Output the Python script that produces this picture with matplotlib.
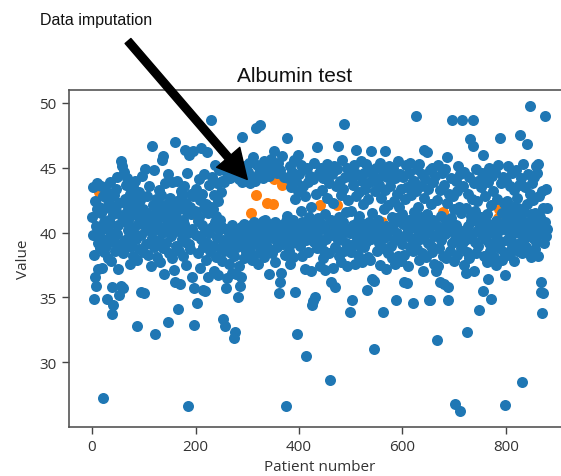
import numpy as np
import matplotlib
matplotlib.use("Agg")
import matplotlib.pyplot as plt

# Albumin values per patient number (0..880)
albumin = [
    41.2, 43.5, 39.8, 38.3, 34.9, 36.6, 42.4, 35.9, 40.5, 41.8, 43.8, 39.2, 37.2, 42.0, 43.1, 40.1, 38.8, 41.5, 43.6, 39.5, 37.3, 42.8, 27.2, 40.8, 38.5,
    41.9, 39.0, 43.2, 40.3, 34.9, 42.5, 38.0, 41.0, 39.6, 43.9, 40.7, 37.8, 42.1, 35.8, 33.7, 41.4, 34.4, 39.3, 42.9, 40.0, 38.6, 41.7, 43.4, 44.3, 39.9,
    40.6, 37.2, 35.2, 42.3, 39.1, 45.5, 35.9, 41.2, 45.1, 38.4, 35.7, 44.7, 40.9, 42.6, 39.4, 43.7, 41.5, 38.9, 44.2, 40.2, 42.0, 39.7, 41.1, 37.6, 43.0,
    41.6, 39.0, 42.7, 40.4, 43.5, 38.2, 41.9, 40.0, 44.0, 39.5, 42.2, 37.9, 32.8, 41.3, 40.7, 43.1, 38.7, 41.0, 42.5, 39.8, 35.4, 40.9, 44.4, 38.5, 41.8,
    35.3, 41.2, 40.5, 44.9, 40.8, 39.1, 41.5, 42.8, 40.2, 38.3, 41.0, 43.6, 40.6, 37.4, 41.3, 46.7, 39.6, 42.1, 40.9, 44.8, 38.9, 41.4, 32.2, 40.3, 42.6,
    40.7, 38.1, 42.4, 41.1, 39.4, 43.3, 40.4, 37.7, 41.8, 42.9, 45.6, 40.0, 38.8, 45.9, 41.6, 36.8, 43.8, 40.5, 39.2, 42.2, 41.0, 33.1, 44.5, 40.8, 38.4,
    41.3, 42.7, 39.7, 40.2, 43.9, 38.0, 41.5, 42.0, 37.1, 40.6, 36.2, 47.0, 41.2, 39.0, 44.0, 42.4, 40.1, 34.1, 38.6, 41.8, 36.0, 43.2, 40.4, 39.5, 42.9,
    41.0, 38.2, 43.6, 40.7, 46.4, 39.3, 42.3, 37.5, 41.6, 44.6, 40.0, 26.6, 46.0, 39.1, 42.0, 38.7, 41.4, 43.0, 36.6, 40.3, 42.8, 46.3, 32.9, 35.7, 41.7,
    39.8, 43.4, 41.3, 34.6, 40.9, 38.4, 44.1, 41.2, 37.3, 42.5, 39.5, 46.5, 40.6, 43.0, 35.6, 38.9, 41.9, 44.5, 35.5, 40.1, 42.2, 37.9, 46.2, 39.2, 36.6,
    41.5, 40.0, 43.7, 38.6, 42.0, 48.7, 40.4, 44.3, 39.0, 41.8, 37.0, 42.9, 40.8, 45.2, 38.1, 41.3, 43.8, 39.6, 36.7, 42.4, 40.2, 44.8, 38.8, 41.0, 43.1,
    40.5, 37.8, 44.0, 39.4, 33.3, 38.6, 43.9, 32.8, 35.7, 40.3, 36.5, 44.6, 39.1, 45.3, 40.0, 37.6, 44.2, 39.7, 38.4, 45.0, 40.6, 36.9, 39.3, 44.4, 31.9,
    38.2, 44.8, 32.3, 36.8, 40.1, 38.9, 45.6, 35.0, 39.5, 44.1, 37.4, 35.9, 36.6, 40.4, 43.9, 47.4, 39.0, 44.5, 38.0, 40.7, 45.1, 39.8, 44.0, 38.5, 40.2,
    39.6, 44.7, 40.3, 38.7, 45.4, 39.9, 43.8, 41.5, 40.6, 37.9, 44.3, 39.2, 45.8, 40.8, 38.3, 44.0, 42.9, 48.1, 39.5, 45.2, 40.1, 37.6, 44.6, 39.0, 48.3,
    44.9, 40.4, 38.6, 45.0, 39.8, 44.2, 40.9, 45.5, 38.1, 41.0, 44.7, 39.3, 40.2, 42.3, 45.3, 38.8, 40.7, 44.4, 36.8, 39.9, 45.7, 40.5, 38.4, 44.9, 42.2,
    40.0, 44.1, 46.3, 37.7, 40.8, 45.0, 39.4, 44.6, 38.9, 40.3, 45.4, 35.3, 39.7, 36.2, 44.8, 36.9, 40.6, 43.7, 45.9, 39.1, 43.9, 40.2, 44.3, 38.3, 40.9,
    26.6, 41.3, 47.3, 39.5, 44.2, 40.5, 38.6, 45.1, 37.6, 40.0, 43.5, 39.2, 44.7, 41.0, 38.1, 45.6, 40.4, 42.6, 35.4, 39.6, 44.0, 32.2, 40.7, 43.2, 46.0,
    40.3, 44.5, 39.0, 41.7, 45.2, 38.2, 40.8, 43.6, 39.8, 44.9, 40.1, 37.2, 42.8, 39.4, 30.5, 45.0, 40.6, 38.5, 43.9, 41.2, 39.7, 44.4, 40.0, 37.0, 42.0,
    34.4, 40.9, 44.1, 34.7, 39.3, 45.4, 35.0, 40.5, 43.0, 38.8, 46.6, 41.1, 39.6, 44.6, 40.2, 37.4, 42.1, 45.0, 39.1, 43.3, 40.7, 38.0, 44.2, 40.4, 38.6,
    37.1, 41.4, 44.8, 39.5, 42.7, 45.3, 40.0, 40.3, 38.4, 43.8, 28.6, 41.0, 36.2, 44.5, 39.8, 37.3, 42.3, 45.1, 40.6, 38.9, 35.8, 43.6, 40.1, 42.1, 44.9,
    39.4, 46.7, 41.2, 38.2, 44.0, 40.4, 42.9, 37.7, 45.6, 39.9, 43.4, 40.8, 38.6, 48.4, 44.3, 39.2, 41.6, 37.4, 45.0, 40.3, 42.5, 38.8, 44.7, 33.9, 40.0,
    41.7, 38.5, 44.2, 34.8, 40.6, 43.7, 39.1, 45.2, 40.2, 37.6, 42.8, 46.4, 39.6, 44.5, 40.9, 38.3, 43.1, 41.3, 39.0, 45.5, 40.5, 37.7, 44.0, 39.8, 42.2,
    38.9, 44.6, 40.7, 43.4, 39.3, 45.3, 35.6, 40.1, 42.6, 38.1, 44.9, 40.8, 37.9, 43.9, 46.3, 39.5, 36.4, 41.5, 44.4, 40.3, 31.0, 36.3, 43.2, 39.7, 45.0,
    40.4, 38.6, 44.1, 41.0, 39.2, 43.7, 37.5, 45.4, 40.0, 42.7, 40.8, 44.8, 38.8, 33.9, 41.8, 39.6, 43.3, 46.3, 40.5, 37.2, 44.3, 39.9, 42.1, 38.4, 45.1,
    40.3, 43.6, 39.0, 44.7, 41.2, 38.0, 45.0, 40.6, 42.4, 39.4, 44.2, 37.6, 41.1, 34.8, 43.0, 40.0, 45.5, 38.2, 42.0, 39.7, 44.5, 40.9, 37.8, 43.4, 41.4,
    39.1, 44.3, 40.7, 38.3, 36.2, 42.6, 45.2, 39.8, 36.1, 43.5, 40.2, 37.4, 44.6, 41.0, 38.9, 45.4, 39.6, 42.9, 40.4, 43.8, 38.6, 34.6, 41.6, 44.0, 39.3,
    40.8, 43.2, 49.0, 38.7, 44.9, 40.1, 42.0, 37.9, 45.3, 39.5, 43.6, 41.2, 38.4, 44.5, 40.5, 37.0, 42.7, 46.4, 39.9, 44.1, 40.9, 38.1, 46.2, 41.4, 39.2,
    43.4, 34.8, 40.3, 44.8, 34.8, 39.0, 42.2, 45.0, 38.5, 41.0, 43.9, 39.7, 37.6, 44.4, 40.6, 37.0, 31.7, 42.5, 37.4, 45.2, 40.0, 38.8, 43.3, 36.2, 41.3,
    39.4, 44.6, 40.4, 38.2, 41.6, 43.7, 36.0, 39.9, 44.9, 40.7, 38.0, 45.8, 42.3, 35.8, 34.8, 40.1, 43.0, 38.6, 44.2, 41.1, 39.2, 48.7, 42.8, 40.3, 37.8,
    41.8, 26.8, 39.5, 44.0, 40.6, 38.3, 43.2, 45.1, 39.7, 42.0, 40.2, 26.2, 44.5, 38.8, 41.5, 39.1, 48.7, 43.6, 40.0, 37.5, 44.7, 39.4, 36.9, 41.9, 38.5,
    32.3, 43.0, 40.5, 38.0, 44.3, 39.6, 47.2, 41.3, 40.9, 42.6, 39.8, 48.7, 46.7, 37.0, 43.8, 39.3, 41.7, 44.9, 38.4, 40.1, 42.4, 39.0, 44.0, 40.7, 34.0,
    41.0, 41.2, 43.5, 39.8, 44.6, 35.5, 46.0, 40.3, 38.2, 42.8, 39.5, 44.1, 40.8, 37.7, 41.4, 36.4, 43.9, 39.2, 45.0, 40.0, 38.6, 42.1, 34.9, 44.4, 40.6,
    39.0, 43.2, 40.4, 38.1, 44.7, 40.9, 37.5, 42.6, 39.6, 45.2, 41.1, 38.8, 41.8, 47.3, 40.2, 43.8, 39.3, 41.5, 37.9, 44.3, 40.7, 42.3, 38.5, 26.7, 36.7,
    41.0, 44.0, 39.4, 42.4, 40.1, 45.1, 38.3, 41.7, 43.6, 39.7, 40.6, 44.6, 38.9, 42.0, 40.3, 37.8, 43.3, 41.3, 39.1, 44.8, 40.5, 42.7, 40.4, 38.6, 41.9,
    43.7, 40.0, 47.5, 39.2, 44.2, 41.1, 38.4, 28.5, 40.7, 45.3, 39.5, 41.6, 43.5, 40.2, 38.9, 46.8, 42.2, 38.5, 44.5, 40.8, 39.8, 43.0, 49.8, 41.4, 38.1,
    40.9, 43.8, 39.6, 42.5, 40.2, 44.3, 38.7, 41.5, 45.1, 39.3, 44.6, 40.6, 45.3, 38.2, 42.8, 39.9, 41.2, 36.2, 35.4, 43.2, 33.8, 41.9, 35.3, 40.4, 39.2,
    40.8, 49.0, 39.7, 43.4, 40.3, 41.9,
]

# Patient numbers whose albumin value was imputed (drawn in orange)
imputed_idx = [14, 202, 307, 316, 338, 349, 351, 367, 370, 441, 457, 473, 560, 679, 785, 787]

title = "Albumin test"
annotation_text = "Data imputation"
xlabel = "Patient number"
ylabel = "Value"

values = np.array(albumin, dtype=float)
patients = np.arange(len(values))
mask = np.ones(len(values), dtype=bool)
mask[imputed_idx] = False

W, H = 561, 477
fig = plt.figure(figsize=(W / 100, H / 100), dpi=100)
# axes: left spine at x=69 px, bottom at y=428 px, top at y=91 px; right spine just beyond the image
ax = fig.add_axes([69.3 / W, 49 / H, (570 - 69.3) / W, (428 - 91) / H])

ax.scatter(patients[~mask], values[~mask], s=63, color="#ff7f0e", linewidths=0, zorder=2)
ax.scatter(patients[mask], values[mask], s=63, color="#1f77b4", linewidths=0, zorder=3)

ax.set_xlim(-44, 924)
ax.set_ylim(25.0, 51.0)
ax.set_xticks([0, 200, 400, 600, 800])
ax.set_yticks([30, 35, 40, 45, 50])

tick_font = "Open Sans"
ax.tick_params(labelsize=11, length=5, width=1.0, color="#444444", labelcolor="#333333", pad=4)
for lab in ax.get_xticklabels() + ax.get_yticklabels():
    lab.set_fontfamily(tick_font)
ax.set_xlabel(xlabel, fontsize=11, family=tick_font, color="#333333", labelpad=3)
ax.set_ylabel(ylabel, fontsize=11, family=tick_font, color="#333333", labelpad=6)
for sp in ax.spines.values():
    sp.set_color("#555555")
    sp.set_linewidth(1.2)

# title (placed as in the reference, slightly left of the axes centre)
fig.text(295 / W, 1 - 82.3 / H, title, ha="center", va="baseline",
         fontsize=15, family="Liberation Sans", color="#111111")

# annotation text + arrow
fig.text(40 / W, 1 - 25.5 / H, annotation_text, ha="left", va="baseline",
         fontsize=11.5, family="Liberation Sans", color="#111111")
ax.annotate("", xy=(300, 44.1), xycoords="data",
            xytext=(128, H - 42), textcoords="figure pixels",
            arrowprops=dict(facecolor="black", edgecolor="black", width=5.5,
                            headwidth=22, headlength=21, shrink=0.0),
            annotation_clip=False, zorder=5)

fig.savefig("out.png", dpi=100)
